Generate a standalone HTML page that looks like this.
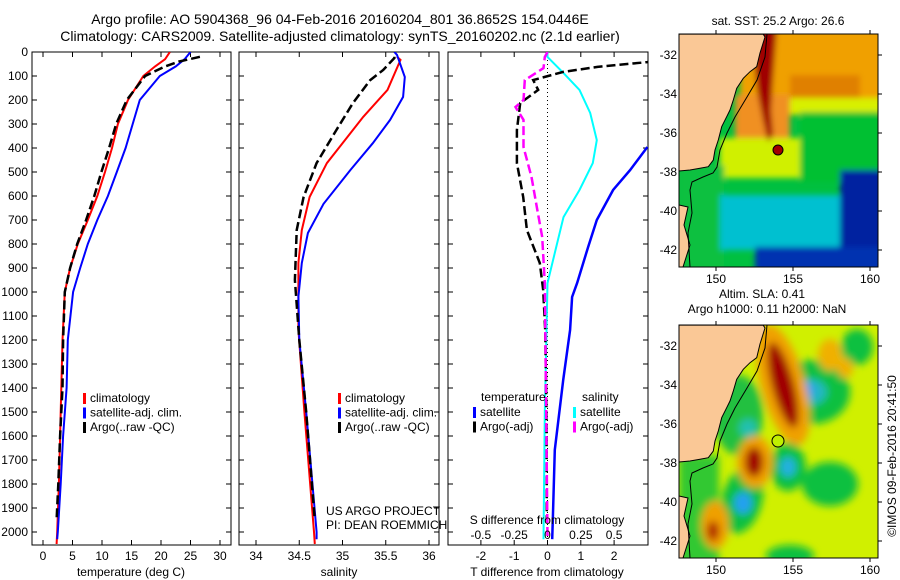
<!DOCTYPE html>
<html><head><meta charset="utf-8"><style>
html,body{margin:0;padding:0;background:#fff;}
svg{display:block;font-family:"Liberation Sans",sans-serif;}
text{font-size:12px;fill:#000;}
</style></head><body>
<svg id="chart" width="900" height="580" viewBox="0 0 900 580" xmlns="http://www.w3.org/2000/svg">
<defs>
<filter id="blur" x="-30%" y="-30%" width="160%" height="160%"><feGaussianBlur stdDeviation="4"/></filter>
<filter id="blur2" x="-20%" y="-20%" width="140%" height="140%"><feGaussianBlur stdDeviation="3"/></filter>
<clipPath id="c1"><rect x="32" y="52" width="199" height="493"/></clipPath>
<clipPath id="c2"><rect x="239" y="52" width="200" height="493"/></clipPath>
<clipPath id="c3"><rect x="448" y="52" width="200" height="493"/></clipPath>
<clipPath id="cm"><rect x="679" y="34" width="199" height="233"/></clipPath>
<clipPath id="cm2"><rect x="679" y="325" width="199" height="233"/></clipPath>
</defs>
<text x="340" y="24" text-anchor="middle" style="font-size:14px">Argo profile: AO 5904368_96 04-Feb-2016 20160204_801 36.8652S 154.0446E</text>
<text x="340" y="41" text-anchor="middle" style="font-size:14px">Climatology: CARS2009. Satellite-adjusted climatology: synTS_20160202.nc (2.1d earlier)</text>

<!-- Top map -->
<g>
<text x="778" y="25" text-anchor="middle">sat. SST: 25.2 Argo: 26.6</text>
<g clip-path="url(#cm)">
<rect x="679" y="34" width="199" height="233" fill="#00c040"/>
<g filter="url(#blur2)">
<rect x="740" y="25" width="145" height="90" fill="#f0a000"/>
<rect x="790" y="75" width="70" height="25" fill="#e08000"/>
<rect x="780" y="98" width="105" height="16" fill="#d8f000"/>
<rect x="735" y="95" width="55" height="50" fill="#f09020"/>
<rect x="720" y="138" width="85" height="40" fill="#d0f000"/>
<rect x="800" y="112" width="85" height="70" fill="#00c030"/>
<rect x="679" y="165" width="45" height="110" fill="#10c040"/>
<rect x="720" y="195" width="165" height="55" fill="#00c0d0"/>
<rect x="840" y="170" width="45" height="100" fill="#0020a0"/>
<rect x="755" y="247" width="130" height="25" fill="#0030b0"/>
<polygon points="757,28 777,28 773,80 771,110 773,135 768,142 763,120 757,90 754,60" fill="#a00000"/>
</g>
<circle cx="778" cy="150" r="5" fill="#a00000" stroke="#000"/>
<polygon points="679,34 763.3,34.3 765,37 760,53 756.7,66.7 750,71.7 743.3,78.3 736.7,88.3 733.3,100 730,110 726.7,116.7 721.7,126.7 718.3,140 715,150 713.3,160 708.3,166.7 700,168.3 690,170 679,171" fill="#fac896" stroke="#000" stroke-width="1"/>
<polygon points="679,205 688,207 684,225 690,245 683,267 679,267" fill="#fac896" stroke="#000" stroke-width="1"/>
<polyline points="767,34 765,57 757,80 747,97 735,117 727,133 720,150 717,167 713,173 703,177 692,182 690,190 692,213 688,233 690,267" fill="none" stroke="#000" stroke-width="1"/>
</g>
<rect x="679" y="34" width="199" height="233" fill="none" stroke="#000"/>
</g>

<!-- Bottom map -->
<g>
<text x="762" y="298" text-anchor="middle">Altim. SLA: 0.41</text>
<text x="767" y="313" text-anchor="middle">Argo h1000: 0.11 h2000: NaN</text>
<g clip-path="url(#cm2)">
<rect x="679" y="325" width="199" height="233" fill="#d0f000"/>
<g filter="url(#blur)">
<rect x="679" y="455" width="40" height="110" fill="#30c830"/>
<ellipse cx="738" cy="415" rx="25" ry="40" fill="#20c040"/>
<ellipse cx="812" cy="392" rx="38" ry="32" fill="#10c040"/>
<ellipse cx="857" cy="347" rx="16" ry="18" fill="#10c040"/>
<ellipse cx="830" cy="484" rx="28" ry="22" fill="#10c040"/>
<ellipse cx="788" cy="467" rx="18" ry="24" fill="#10c040"/>
<ellipse cx="742" cy="500" rx="20" ry="34" fill="#10c040" transform="rotate(15 742 500)"/>
<ellipse cx="790" cy="556" rx="24" ry="11" fill="#10c040"/>
<ellipse cx="810" cy="392" rx="17" ry="13" fill="#20b8c0"/>
<ellipse cx="807" cy="390" rx="8" ry="8" fill="#30a0f0"/>
<ellipse cx="748" cy="428" rx="9" ry="9" fill="#20c0b0"/>
<ellipse cx="788" cy="467" rx="8" ry="10" fill="#20b0e0"/>
<ellipse cx="743" cy="503" rx="9" ry="11" fill="#20a0f0"/>
<ellipse cx="783" cy="385" rx="22" ry="62" fill="#f0a000" transform="rotate(-15 783 385)"/>
<ellipse cx="830" cy="355" rx="12" ry="16" fill="#f0b000"/>
<ellipse cx="845" cy="368" rx="8" ry="10" fill="#f0b000"/>
<ellipse cx="755" cy="462" rx="18" ry="26" fill="#f0a000"/>
<ellipse cx="715" cy="525" rx="14" ry="24" fill="#f0a000"/>
<ellipse cx="783" cy="385" rx="11" ry="44" fill="#a00000" transform="rotate(-15 783 385)"/>
<ellipse cx="754" cy="462" rx="9" ry="15" fill="#a00000"/>
<ellipse cx="713" cy="531" rx="6" ry="10" fill="#b02000"/>
</g>
<circle cx="778" cy="441" r="6" fill="#c0f000" stroke="#000"/>
<g transform="translate(0,291)">
<polygon points="679,34 763.3,34.3 765,37 760,53 756.7,66.7 750,71.7 743.3,78.3 736.7,88.3 733.3,100 730,110 726.7,116.7 721.7,126.7 718.3,140 715,150 713.3,160 708.3,166.7 700,168.3 690,170 679,171" fill="#fac896" stroke="#000" stroke-width="1"/>
<polygon points="679,205 688,207 684,225 690,245 683,267 679,267" fill="#fac896" stroke="#000" stroke-width="1"/>
<polyline points="767,34 765,57 757,80 747,97 735,117 727,133 720,150 717,167 713,173 703,177 692,182 690,190 692,213 688,233 690,267" fill="none" stroke="#000" stroke-width="1"/>
</g>
</g>
<rect x="679" y="325" width="199" height="233" fill="none" stroke="#000"/>
<text transform="translate(896,456) rotate(-90)" text-anchor="middle">©IMOS 09-Feb-2016 20:41:50</text>
</g>

<g id="dyn"></g>
</svg>
<script>
// ---- Panel 1: temperature ----
const tDepthRed=[0,30,60,100,200,300,400,500,600,700,800,900,1000,1200,1400,1600,1800,2000,2050];
const tRed=[21.5,20.7,19,17,14.4,12.7,11.7,10.5,9.2,7.6,5.9,4.6,3.7,3.3,3.1,2.9,2.7,2.4,2.3];
const tDepthBlue=[0,30,60,100,200,300,400,500,600,700,800,900,1000,1200,1400,1600,1800,2000,2030];
const tBlue=[25,24,22.5,19.8,16.4,15.2,14,12.5,11,9.2,7.6,6.3,5.1,4.2,4.0,3.4,3.0,2.5,2.4];
const tDepthArgo=[20,40,60,100,200,300,400,500,600,700,800,900,1000,1200,1400,1600,1800,1950];
const tArgo=[26.6,23,20.7,17.3,14.2,12.4,11.2,9.9,8.7,7.3,5.8,4.6,3.7,3.4,3.3,2.9,2.6,2.3];
const tTicks=[0,5,10,15,20,25,30];
// ---- Panel 2: salinity ----
const sDepthRed=[20,33,158,270,380,463,604,742,879,1158,1500,2000,2050];
const sRed=[35.63,35.67,35.52,35.24,35.0,34.82,34.62,34.53,34.49,34.49,34.56,34.67,34.68];
const sDepthBlue=[0,12,104,187,283,380,492,633,754,879,1020,1200,1500,2000,2030];
const sBlue=[35.6,35.63,35.72,35.70,35.55,35.35,35.09,34.78,34.6,34.53,34.49,34.5,34.58,34.7,34.7];
const sDepthArgo=[20,25,75,117,213,325,463,604,742,950,1200,1500,1950];
const sArgo=[35.6,35.6,35.47,35.32,35.12,34.93,34.7,34.55,34.47,34.45,34.5,34.58,34.68];
const sTicks=[34,34.5,35,35.5,36];
// ---- Panel 3: differences ----
const dDepthTSat=[396,492,575,700,813,963,1021,1158,1367,1658,1950,2030];
const dTSat=[3.0,2.48,1.97,1.48,1.22,0.89,0.74,0.68,0.47,0.22,0.16,0.14];
const dDepthTArgo=[35,42,62,83,117,158,213,325,463,604,742,879,992,1158,1500,1950];
const dTArgo=[3.2,3.0,1.5,0.47,-0.43,-0.28,-0.82,-0.92,-0.92,-0.73,-0.62,-0.23,-0.13,-0.07,-0.03,-0.02];
const dDepthSSat=[0,21,88,158,254,367,463,575,688,825,963,1500,2030];
const dSSat=[0,0.0,0.12,0.24,0.32,0.37,0.34,0.24,0.12,0.06,0.0,-0.02,-0.03];
const dDepthSArgo=[0,21,67,117,200,229,283,396,521,646,771,963,1500,2030];
const dSArgo=[0,-0.02,-0.03,-0.17,-0.18,-0.24,-0.18,-0.18,-0.12,-0.08,-0.04,-0.02,-0.01,0];
const dTTicks=[-2,-1,0,1,2];
const dSTicks=[-0.5,-0.25,0,0.25,0.5];
const dSTickLabels=["-0.5","-0.25","0","0.25","0.5"];
const depthTicks=[0,100,200,300,400,500,600,700,800,900,1000,1100,1200,1300,1400,1500,1600,1700,1800,1900,2000];

const NS="http://www.w3.org/2000/svg";
const root=document.getElementById('dyn');
function mk(tag,attrs,parent){const e=document.createElementNS(NS,tag);for(const k in attrs)e.setAttribute(k,attrs[k]);(parent||root).appendChild(e);return e;}
const yD=d=>52+d*0.24;
const x1=t=>43+t*5.9;
const x2=s=>256+(s-34)*86.5;
const x3T=t=>547.5+t*33.3;
const x3S=s=>547.5+s*133.3;
const panels=[[32,199],[239,200],[448,200]];

function frame(i,name){
  const [px,w]=panels[i];
  const g=mk('g',{});
  
  
  mk('rect',{x:px,y:52,width:w,height:493,fill:'none',stroke:'#000','stroke-width':1},g);
  depthTicks.forEach(d=>{
    const y=yD(d);
    mk('line',{x1:px,x2:px+5,y1:y,y2:y,stroke:'#000'},g);
    mk('line',{x1:px+w-5,x2:px+w,y1:y,y2:y,stroke:'#000'},g);
    if(i===0){const t=mk('text',{x:28,y:y+4,'text-anchor':'end'},g);t.textContent=d;}
  });
  return g;
}
function xticks(g,vals,fx,labels){
  vals.forEach((v,k)=>{
    const x=fx(v);
    mk('line',{x1:x,x2:x,y1:545,y2:540,stroke:'#000'},g);
    mk('line',{x1:x,x2:x,y1:52,y2:57,stroke:'#000'},g);
    const t=mk('text',{x:x,y:560,'text-anchor':'middle'},g);t.textContent=labels?labels[k]:v;
  });
}
function series(depths,vals,fx,color,clip,dash,name,w){
  const pts=depths.map((d,k)=>fx(vals[k]).toFixed(1)+','+yD(d).toFixed(1)).join(' ');
  const p=mk('polyline',{points:pts,fill:'none',stroke:color,'stroke-width':w||2,'clip-path':'url(#'+clip+')'});
  if(dash)p.setAttribute('stroke-dasharray',dash);
  
  
}
function legend(x,y,items){
  items.forEach((it,k)=>{
    const yy=y+k*14.5;
    mk('rect',{x:x,y:yy-9,width:3,height:11,fill:it[0]});
    const t=mk('text',{x:x+7,y:yy});t.textContent=it[1];
    
    
  });
}
function label(x,y,s,name,anchor){const t=mk('text',{x:x,y:y,'text-anchor':anchor||'start'});t.textContent=s;}

// panel 1
let g=frame(0,'temperature-panel');
xticks(g,tTicks,x1);
label(131,576,'temperature (deg C)','temperature-axis-title','middle');
series(tDepthRed,tRed,x1,'#ff0000','c1',null,'temp-climatology-line');
series(tDepthBlue,tBlue,x1,'#0000ff','c1',null,'temp-satellite-line');
series(tDepthArgo,tArgo,x1,'#000','c1','9,4','temp-argo-line',2.5);
legend(83,402,[['#ff0000','climatology'],['#0000ff','satellite-adj. clim.'],['#000','Argo(..raw -QC)']]);

// panel 2
g=frame(1,'salinity-panel');
xticks(g,sTicks,x2);
label(339,576,'salinity','salinity-axis-title','middle');
series(sDepthRed,sRed,x2,'#ff0000','c2',null,'sal-climatology-line');
series(sDepthBlue,sBlue,x2,'#0000ff','c2',null,'sal-satellite-line');
series(sDepthArgo,sArgo,x2,'#000','c2','9,4','sal-argo-line',2.5);
legend(338,402,[['#ff0000','climatology'],['#0000ff','satellite-adj. clim.'],['#000','Argo(..raw -QC)']]);
label(326,515,'US ARGO PROJECT','project-label');
label(326,529,'PI: DEAN ROEMMICH','pi-label');

// panel 3
g=frame(2,'difference-panel');
xticks(g,dTTicks,x3T);
mk('line',{x1:547.5,x2:547.5,y1:52,y2:545,stroke:'#000','stroke-dasharray':'1,3'});
series(dDepthTSat,dTSat,x3T,'#0000ff','c3',null,'tdiff-satellite-line',2.5);
series(dDepthSSat,dSSat,x3S,'#00ffff','c3',null,'sdiff-satellite-line',2);
series(dDepthTArgo,dTArgo,x3T,'#000','c3','9,4','tdiff-argo-line',2.5);
series(dDepthSArgo,dSArgo,x3S,'#ff00ff','c3','9,4','sdiff-argo-line',2.5);
dSTicks.forEach((v,k)=>{const t=mk('text',{x:x3S(v),y:539,'text-anchor':'middle'});t.textContent=dSTickLabels[k];});
label(547,524,'S difference from climatology','s-diff-axis-title','middle');
label(547,576,'T difference from climatology','t-diff-axis-title','middle');
label(481,401,'temperature','legend-temperature-header');
label(582,401,'salinity','legend-salinity-header');
legend(473,416,[['#0000ff','satellite'],['#000','Argo(-adj)']]);
legend(573,416,[['#00ffff','satellite'],['#ff00ff','Argo(-adj)']]);

// map axes
[0,291].forEach((off,mi)=>{
  [150,155,160].forEach(l=>{
    const x=716+(l-150)*15.4;
    mk('line',{x1:x,x2:x,y1:34+off,y2:30+off,stroke:'#000'});
    mk('line',{x1:x,x2:x,y1:267+off,y2:271+off,stroke:'#000'});
    const t=mk('text',{x:x,y:283+off,'text-anchor':'middle'});t.textContent=l;
  });
  [-32,-34,-36,-38,-40,-42].forEach(la=>{
    const y=55+(-32-la)*19.5+off;
    mk('line',{x1:878,x2:882,y1:y,y2:y,stroke:'#000'});
    const t=mk('text',{x:677,y:y+4,'text-anchor':'end'});t.textContent=la;
  });
});
</script>
</body></html>
